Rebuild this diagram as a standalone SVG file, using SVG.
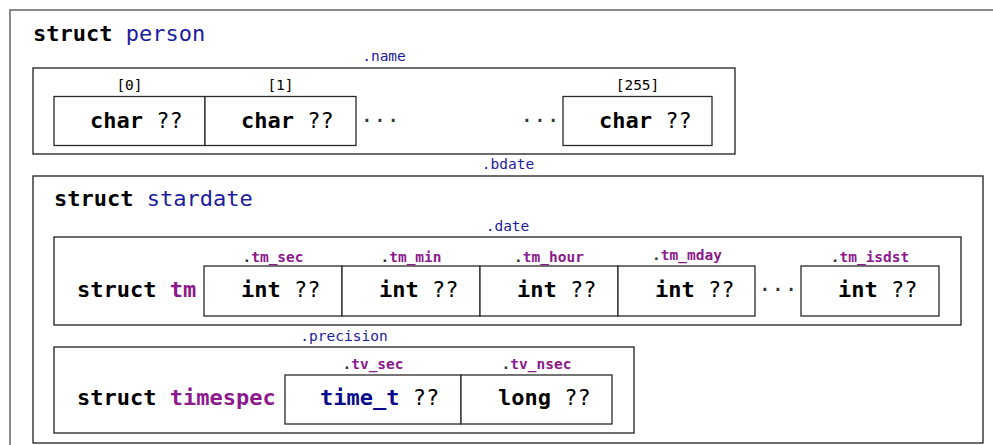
<svg xmlns="http://www.w3.org/2000/svg" width="993" height="445" viewBox="0 0 993 445">
<style>
text{font-family:"DejaVu Sans Mono","Liberation Mono",monospace;}
.frame{fill:none;stroke:#6b6b6b;stroke-width:1.6}
.box{fill:none;stroke:#1e1e1e;stroke-width:1.3}
.cell{fill:#fff;stroke:#2a2a2a;stroke-width:1.3}
.big{font-size:22px;fill:#000}
.b{font-weight:bold}
.blue{fill:#1c1ca0}
.navy{fill:#0a0a8c}
.purple{fill:#8c1a8c}
.lbl{font-size:14.5px;text-anchor:middle}
.dot{fill:#333}
.dots{font-size:22px;fill:#333;text-anchor:middle}
</style>
<rect width="993" height="445" fill="#fff"/>
<rect class="frame" x="10" y="10" width="1000" height="460"/>
<g id="person">
  <text class="big" x="33" y="41"><tspan class="b">struct</tspan> <tspan class="blue">person</tspan></text>
  <text class="lbl blue" x="384" y="61">.name</text>
  <rect class="box" x="33" y="68" width="702" height="86"/>
</g>
<g id="name0">
  <text class="lbl" x="129.5" y="90">[0]</text>
  <rect class="cell" x="54" y="96.5" width="151" height="49"/>
  <text class="big" x="90" y="128"><tspan class="b">char</tspan> ??</text>
</g>
<g id="name1">
  <text class="lbl" x="280.5" y="90">[1]</text>
  <rect class="cell" x="205" y="96.5" width="151" height="49"/>
  <text class="big" x="241" y="128"><tspan class="b">char</tspan> ??</text>
</g>
<g id="name255">
  <text class="lbl" x="637.5" y="90">[255]</text>
  <rect class="cell" x="563" y="96.5" width="149" height="49"/>
  <text class="big" x="599" y="128"><tspan class="b">char</tspan> ??</text>
</g>
<text class="dots" x="380" y="128">···</text>
<text class="dots" x="540" y="128">···</text>
<g id="stardate">
  <text class="lbl blue" x="508" y="169">.bdate</text>
  <rect class="box" x="33" y="176" width="950" height="267"/>
  <text class="big" x="54" y="206"><tspan class="b">struct</tspan> <tspan class="blue">stardate</tspan></text>
</g>
<g id="tm">
  <text class="lbl blue" x="507.5" y="231">.date</text>
  <rect class="box" x="54" y="237" width="907" height="88"/>
  <text class="big b" x="77" y="297">struct <tspan class="purple">tm</tspan></text>
</g>
<g id="tm_sec">
  <text class="lbl b purple" x="273" y="262"><tspan class="dot">.</tspan>tm_sec</text>
  <rect class="cell" x="204" y="266" width="138" height="50"/>
  <text class="big" x="241" y="297"><tspan class="b">int</tspan> ??</text>
</g>
<g id="tm_min">
  <text class="lbl b purple" x="411" y="262"><tspan class="dot">.</tspan>tm_min</text>
  <rect class="cell" x="342" y="266" width="138" height="50"/>
  <text class="big" x="379" y="297"><tspan class="b">int</tspan> ??</text>
</g>
<g id="tm_hour">
  <text class="lbl b purple" x="549" y="262"><tspan class="dot">.</tspan>tm_hour</text>
  <rect class="cell" x="480" y="266" width="138" height="50"/>
  <text class="big" x="517" y="297"><tspan class="b">int</tspan> ??</text>
</g>
<g id="tm_mday">
  <text class="lbl b purple" x="687" y="260"><tspan class="dot">.</tspan>tm_mday</text>
  <rect class="cell" x="618" y="266" width="137" height="50"/>
  <text class="big" x="655" y="297"><tspan class="b">int</tspan> ??</text>
</g>
<text class="dots" x="778" y="297">···</text>
<g id="tm_isdst">
  <text class="lbl b purple" x="870" y="262"><tspan class="dot">.</tspan>tm_isdst</text>
  <rect class="cell" x="801" y="266" width="138" height="50"/>
  <text class="big" x="838" y="297"><tspan class="b">int</tspan> ??</text>
</g>
<g id="timespec">
  <text class="lbl blue" x="344" y="341">.precision</text>
  <rect class="box" x="54" y="347" width="580" height="86"/>
  <text class="big b" x="77" y="405">struct <tspan class="purple">timespec</tspan></text>
</g>
<g id="tv_sec">
  <text class="lbl b purple" x="373" y="369"><tspan class="dot">.</tspan>tv_sec</text>
  <rect class="cell" x="285" y="375" width="176" height="49"/>
  <text class="big" x="320" y="405"><tspan class="b navy">time_t</tspan> ??</text>
</g>
<g id="tv_nsec">
  <text class="lbl b purple" x="536.5" y="369"><tspan class="dot">.</tspan>tv_nsec</text>
  <rect class="cell" x="461" y="375" width="151" height="49"/>
  <text class="big" x="498" y="405"><tspan class="b">long</tspan> ??</text>
</g>
<g id="connectors"></g>
</svg>
